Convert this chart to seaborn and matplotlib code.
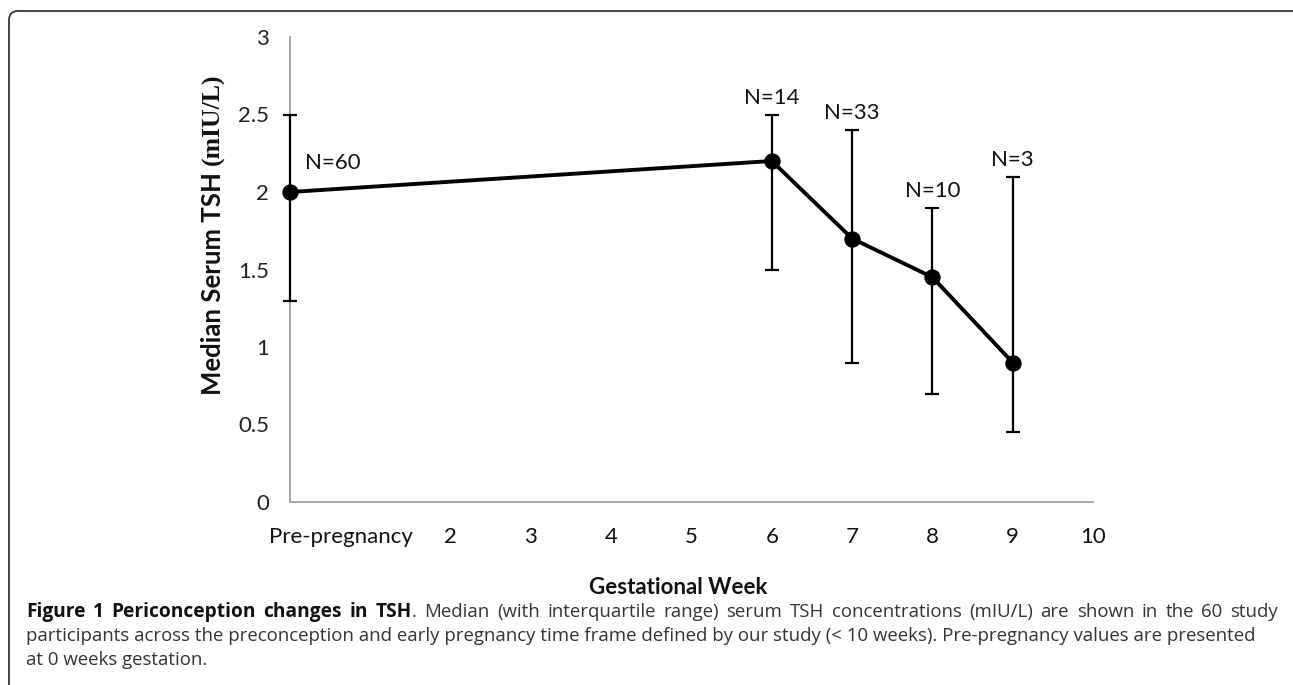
import numpy as np
import pandas as pd
import matplotlib
matplotlib.use("Agg")
import matplotlib.pyplot as plt
import seaborn as sns
from matplotlib.patches import FancyBboxPatch
from matplotlib.transforms import IdentityTransform

# ---- data ----
weeks = [0, 6, 7, 8, 9]
median_tsh = [2.0, 2.2, 1.7, 1.45, 0.9]
q1_tsh = [1.3, 1.5, 0.9, 0.7, 0.45]
q3_tsh = [2.5, 2.5, 2.4, 1.9, 2.1]
n_labels = ["N=60", "N=14", "N=33", "N=10", "N=3"]
x_tick_labels = ["Pre-pregnancy", "2", "3", "4", "5", "6", "7", "8", "9", "10"]
y_ticks = [0, 0.5, 1, 1.5, 2, 2.5, 3]
y_tick_labels = ["0", "0.5", "1", "1.5", "2", "2.5", "3"]

caption_bold = "Figure 1 Periconception changes in TSH"
caption_line1 = ". Median (with interquartile range) serum TSH concentrations (mIU/L) are shown in the 60 study"
caption_line2 = "participants across the preconception and early pregnancy time frame defined by our study (< 10 weeks). Pre-pregnancy values are presented"
caption_line3 = "at 0 weeks gestation."

df = pd.DataFrame({"week": weeks, "tsh": median_tsh})

sns.set_theme(style="white")
plt.rcParams["font.family"] = ["Lato", "DejaVu Sans"]

W, H = 1293, 685
fig = plt.figure(figsize=(W / 100, H / 100), dpi=100)
ax = fig.add_axes([290 / W, 1 - 502 / H, (1093 - 290) / W, (502 - 37) / H])

lower = np.array(median_tsh) - np.array(q1_tsh)
upper = np.array(q3_tsh) - np.array(median_tsh)
eb = ax.errorbar(weeks, median_tsh, yerr=[lower, upper], fmt="none", ecolor="black",
                 elinewidth=1.6, capsize=5, capthick=1.6, zorder=3)
for art in list(eb.lines[1]) + list(eb.lines[2]):
    art.set_clip_on(False)
    art.set_zorder(3)
sns.lineplot(data=df, x="week", y="tsh", ax=ax, color="black", linewidth=2.8,
             marker="o", markersize=11, markeredgecolor="black", zorder=4)
for ln in ax.lines:
    ln.set_clip_on(False)

ax.set_xlim(0, 10)
ax.set_ylim(0, 3)
tick_pos = [0.64] + list(range(2, 11))
ax.set_xticks(tick_pos)
ax.set_xticklabels(x_tick_labels, fontsize=16, color="#111111")
ax.set_yticks(y_ticks)
ax.set_yticklabels(y_tick_labels, fontsize=16, color="#222222")
ax.tick_params(axis="both", length=0)
ax.tick_params(axis="x", pad=18)
ax.tick_params(axis="y", pad=15)
for s in ["top", "right"]:
    ax.spines[s].set_visible(False)
for s in ["left", "bottom"]:
    ax.spines[s].set_color("#a0a0a0")
    ax.spines[s].set_linewidth(1.3)
    ax.spines[s].set_zorder(1)
ax.set_xlabel("")
ax.set_ylabel("")

# N annotations
for i, (x, q3, lab) in enumerate(zip(weeks, q3_tsh, n_labels)):
    if i == 0:
        ax.annotate(lab, (x, median_tsh[i]), xytext=(11, 21), textcoords="offset points",
                    ha="left", va="center", fontsize=16, color="#111111")
    else:
        ax.annotate(lab, (x, q3), xytext=(0, 12), textcoords="offset points",
                    ha="center", va="center", fontsize=16, color="#111111")

# x-axis label
fig.text(678 / W, 1 - 588 / H, "Gestational Week", ha="center", va="center",
         fontsize=16, fontweight="bold", color="#111111")

# y-axis label with mixed fonts
fig.canvas.draw()
r = fig.canvas.get_renderer()
t1 = fig.text(213 / W, 1 - 395 / H, "Median Serum TSH", rotation=90, rotation_mode="anchor",
              ha="left", va="center", fontsize=18.5, fontweight="bold", color="#111111")
bb = t1.get_window_extent(r)
t2 = fig.text(213 / W, (bb.y1 + 7) / H, "(mIU/L)", rotation=90, rotation_mode="anchor",
              ha="left", va="center", fontsize=18.5, fontweight="bold", color="#111111",
              family=["Liberation Serif", "DejaVu Serif"])

# caption
cap_family = ["Open Sans", "DejaVu Sans"]
cap_fs = 13.4
bold_fs = 13.8
x0, x1 = 26, 1278
base1, base2, base3 = 617, 641, 665

bold_words = caption_bold.split()
punct = caption_line1[0]
rest_words = caption_line1[1:].split()
units = [[(w, True)] for w in bold_words[:-1]]
units.append([(bold_words[-1], True), (punct, False)])
units += [[(w, False)] for w in rest_words]

unit_texts = []
unit_widths = []
for u in units:
    pieces = []
    wsum = 0
    for txt, is_bold in u:
        t = fig.text(0, 1 - base1 / H, txt, ha="left", va="baseline",
                     fontsize=bold_fs if is_bold else cap_fs,
                     fontweight="bold" if is_bold else "normal",
                     color="#111111" if is_bold else "#333333", family=cap_family)
        w = t.get_window_extent(r).width
        pieces.append((t, w))
        wsum += w
    unit_texts.append(pieces)
    unit_widths.append(wsum)
gap = (x1 - x0 - sum(unit_widths)) / (len(units) - 1)
xc = x0
for pieces, uw in zip(unit_texts, unit_widths):
    xp = xc
    for t, w in pieces:
        t.set_x(xp / W)
        xp += w
    xc += uw + gap

fig.text(x0 / W, 1 - base2 / H, caption_line2, ha="left", va="baseline", fontsize=cap_fs,
         color="#333333", family=cap_family)
fig.text(x0 / W, 1 - base3 / H, caption_line3, ha="left", va="baseline", fontsize=cap_fs,
         color="#333333", family=cap_family)

# rounded border
border = FancyBboxPatch((9, -40), 1300, H - 11 + 40, boxstyle="round,pad=0,rounding_size=9",
                        transform=IdentityTransform(), fill=False, edgecolor="#333333",
                        linewidth=1.3)
fig.patches.append(border)

fig.savefig("out.png", dpi=100)
